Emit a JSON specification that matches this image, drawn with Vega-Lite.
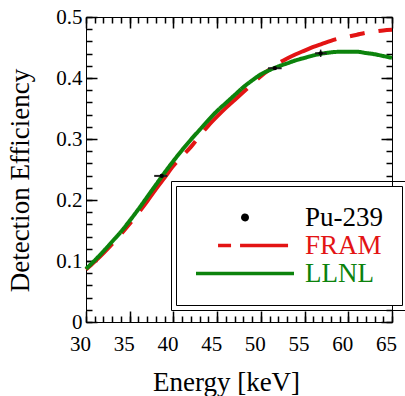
{
  "$schema": "https://vega.github.io/schema/vega-lite/v6.json",
  "width": 306,
  "height": 305,
  "autosize": {"type": "none"},
  "padding": {"left": 86, "top": 17, "right": 13, "bottom": 74},
  "background": "white",
  "config": {
    "view": {"stroke": "black", "strokeWidth": 1, "fill": null},
    "font": "Liberation Serif",
    "legend": {
      "labelFont": "Liberation Serif",
      "labelFontSize": 27,
      "labelLimit": 0,
      "symbolSize": 9604,
      "symbolStrokeWidth": 3.5,
      "clipHeight": 27,
      "rowPadding": 0,
      "labelOffset": 9
    }
  },
  "datasets": {
    "curves": [
      {"series": "FRAM", "energy": 30, "eff": 0.086},
      {"series": "FRAM", "energy": 31, "eff": 0.099},
      {"series": "FRAM", "energy": 32, "eff": 0.113},
      {"series": "FRAM", "energy": 33, "eff": 0.128},
      {"series": "FRAM", "energy": 34, "eff": 0.144},
      {"series": "FRAM", "energy": 35, "eff": 0.161},
      {"series": "FRAM", "energy": 36, "eff": 0.179},
      {"series": "FRAM", "energy": 37, "eff": 0.198},
      {"series": "FRAM", "energy": 38, "eff": 0.218},
      {"series": "FRAM", "energy": 39, "eff": 0.237},
      {"series": "FRAM", "energy": 40, "eff": 0.256},
      {"series": "FRAM", "energy": 41, "eff": 0.272},
      {"series": "FRAM", "energy": 42, "eff": 0.287},
      {"series": "FRAM", "energy": 43, "eff": 0.305},
      {"series": "FRAM", "energy": 44, "eff": 0.322},
      {"series": "FRAM", "energy": 45, "eff": 0.337},
      {"series": "FRAM", "energy": 46, "eff": 0.351},
      {"series": "FRAM", "energy": 47, "eff": 0.364},
      {"series": "FRAM", "energy": 48, "eff": 0.377},
      {"series": "FRAM", "energy": 49, "eff": 0.39},
      {"series": "FRAM", "energy": 50, "eff": 0.403},
      {"series": "FRAM", "energy": 51, "eff": 0.414},
      {"series": "FRAM", "energy": 52, "eff": 0.424},
      {"series": "FRAM", "energy": 53, "eff": 0.432},
      {"series": "FRAM", "energy": 54, "eff": 0.439},
      {"series": "FRAM", "energy": 55, "eff": 0.445},
      {"series": "FRAM", "energy": 56, "eff": 0.451},
      {"series": "FRAM", "energy": 57, "eff": 0.456},
      {"series": "FRAM", "energy": 58, "eff": 0.461},
      {"series": "FRAM", "energy": 59, "eff": 0.465},
      {"series": "FRAM", "energy": 60, "eff": 0.468},
      {"series": "FRAM", "energy": 61, "eff": 0.471},
      {"series": "FRAM", "energy": 62, "eff": 0.474},
      {"series": "FRAM", "energy": 63, "eff": 0.476},
      {"series": "FRAM", "energy": 64, "eff": 0.478},
      {"series": "FRAM", "energy": 65, "eff": 0.479},
      {"series": "LLNL", "energy": 30, "eff": 0.087},
      {"series": "LLNL", "energy": 31, "eff": 0.101},
      {"series": "LLNL", "energy": 32, "eff": 0.116},
      {"series": "LLNL", "energy": 33, "eff": 0.132},
      {"series": "LLNL", "energy": 34, "eff": 0.148},
      {"series": "LLNL", "energy": 35, "eff": 0.166},
      {"series": "LLNL", "energy": 36, "eff": 0.185},
      {"series": "LLNL", "energy": 37, "eff": 0.205},
      {"series": "LLNL", "energy": 38, "eff": 0.225},
      {"series": "LLNL", "energy": 39, "eff": 0.245},
      {"series": "LLNL", "energy": 40, "eff": 0.264},
      {"series": "LLNL", "energy": 41, "eff": 0.282},
      {"series": "LLNL", "energy": 42, "eff": 0.299},
      {"series": "LLNL", "energy": 43, "eff": 0.315},
      {"series": "LLNL", "energy": 44, "eff": 0.331},
      {"series": "LLNL", "energy": 45, "eff": 0.346},
      {"series": "LLNL", "energy": 46, "eff": 0.359},
      {"series": "LLNL", "energy": 47, "eff": 0.372},
      {"series": "LLNL", "energy": 48, "eff": 0.385},
      {"series": "LLNL", "energy": 49, "eff": 0.396},
      {"series": "LLNL", "energy": 50, "eff": 0.406},
      {"series": "LLNL", "energy": 51, "eff": 0.413},
      {"series": "LLNL", "energy": 52, "eff": 0.419},
      {"series": "LLNL", "energy": 53, "eff": 0.424},
      {"series": "LLNL", "energy": 54, "eff": 0.429},
      {"series": "LLNL", "energy": 55, "eff": 0.433},
      {"series": "LLNL", "energy": 56, "eff": 0.437},
      {"series": "LLNL", "energy": 57, "eff": 0.44},
      {"series": "LLNL", "energy": 58, "eff": 0.442},
      {"series": "LLNL", "energy": 59, "eff": 0.443},
      {"series": "LLNL", "energy": 60, "eff": 0.443},
      {"series": "LLNL", "energy": 61, "eff": 0.443},
      {"series": "LLNL", "energy": 62, "eff": 0.441},
      {"series": "LLNL", "energy": 63, "eff": 0.439},
      {"series": "LLNL", "energy": 64, "eff": 0.436},
      {"series": "LLNL", "energy": 65, "eff": 0.433}
    ],
    "measured": [
      {"series": "Pu-239", "energy": 38.66, "eff": 0.2395, "elo": 37.8, "ehi": 39.3, "efflo": 0.2365, "effhi": 0.2425},
      {"series": "Pu-239", "energy": 51.6, "eff": 0.416, "elo": 50.82, "ehi": 52.38, "efflo": 0.413, "effhi": 0.419},
      {"series": "Pu-239", "energy": 56.84, "eff": 0.4405, "elo": 56.2, "ehi": 57.53, "efflo": 0.4345, "effhi": 0.4465}
    ]
  },
  "layer": [
    {
      "data": {"name": "curves"},
      "transform": [{"filter": "datum.series === 'FRAM'"}],
      "mark": {"type": "line", "strokeWidth": 4, "strokeDashOffset": 23, "interpolate": "monotone"},
      "encoding": {
        "x": {"field": "energy", "type": "quantitative", "scale": {"domain": [30, 65], "nice": false, "zero": false},
          "axis": {"orient": "bottom", "values": [30, 35, 40, 45, 50, 55, 60, 65], "offset": -11,
            "ticks": true, "tickSize": 11, "tickColor": "black", "tickWidth": 1.5,
            "domain": false, "grid": false,
            "labelPadding": 11, "labelOffset": -6, "labelFlush": false, "labelOverlap": false,
            "labelFont": "Liberation Serif", "labelFontSize": 21, "labelColor": "black",
            "title": "Energy [keV]", "titleFont": "Liberation Serif", "titleFontSize": 27, "titleFontWeight": "normal", "titleColor": "black",
            "titleX": 140, "titleY": 79, "titleBaseline": "alphabetic", "titleAlign": "center"}},
        "y": {"field": "eff", "type": "quantitative", "scale": {"domain": [0, 0.5], "nice": false, "zero": false},
          "axis": {"orient": "left", "values": [0, 0.1, 0.2, 0.3, 0.4, 0.5], "format": "~g", "offset": -11,
            "ticks": true, "tickSize": 11, "tickColor": "black", "tickWidth": 1.5,
            "domain": false, "grid": false,
            "labelPadding": 4, "labelFlush": false, "labelOverlap": false,
            "labelFont": "Liberation Serif", "labelFontSize": 21, "labelColor": "black",
            "title": "Detection Efficiency", "titleFont": "Liberation Serif", "titleFontSize": 27, "titleFontWeight": "normal", "titleColor": "black",
            "titleX": -69, "titleY": 163, "titleBaseline": "alphabetic", "titleAlign": "center", "titleAngle": -90}},
        "color": {"field": "series", "type": "nominal",
          "scale": {"domain": ["Pu-239", "FRAM", "LLNL"], "range": ["black", "#e31414", "#0c830c"]},
          "legend": {
            "orient": "none", "legendX": 90, "legendY": 169, "title": null, "padding": 18,
            "fillColor": "white", "strokeColor": "black",
            "encode": {
              "symbols": {"update": {
                "shape": {"signal": "datum.value === 'Pu-239' ? 'M-0.045,0A0.045,0.045,0,1,1,0.045,0A0.045,0.045,0,1,1,-0.045,0Z' : datum.value === 'FRAM' ? 'M-0.55,0L0.88,0' : 'M-1,0L1,0'"},
                "stroke": {"signal": "datum.value === 'Pu-239' ? 'transparent' : datum.value === 'FRAM' ? '#e31414' : '#0c830c'"},
                "fill": {"signal": "datum.value === 'Pu-239' ? 'black' : 'transparent'"},
                "strokeDash": {"signal": "datum.value === 'FRAM' ? [13, 9, 48, 9] : [1, 0]"},
                "opacity": {"value": 1}
              }},
              "labels": {"update": {
                "fill": {"signal": "datum.value === 'Pu-239' ? 'black' : datum.value === 'FRAM' ? '#e31414' : '#0c830c'"}
              }}
            }
          }},
        "strokeDash": {"field": "series", "type": "nominal",
          "scale": {"domain": ["LLNL", "FRAM", "Pu-239"], "range": [[1, 0], [60, 14, 15, 14], [1, 0]]},
          "legend": {
            "orient": "none", "legendX": 85, "legendY": 164, "title": null, "padding": 23,
            "strokeColor": "black",
            "encode": {
              "symbols": {"update": {
                "shape": {"signal": "datum.value === 'Pu-239' ? 'M-0.045,0A0.045,0.045,0,1,1,0.045,0A0.045,0.045,0,1,1,-0.045,0Z' : datum.value === 'FRAM' ? 'M-0.55,0L0.88,0' : 'M-1,0L1,0'"},
                "opacity": {"value": 0}
              }},
              "labels": {"update": {"opacity": {"value": 0}}}
            }
          }}
      }
    },
    {
      "data": {"name": "curves"},
      "transform": [{"filter": "datum.series === 'LLNL'"}],
      "mark": {"type": "line", "strokeWidth": 4, "interpolate": "monotone"},
      "encoding": {
        "x": {"field": "energy", "type": "quantitative", "scale": {"domain": [30, 65], "nice": false, "zero": false},
          "axis": {"orient": "bottom", "values": [30, 31, 32, 33, 34, 35, 36, 37, 38, 39, 40, 41, 42, 43, 44, 45, 46, 47, 48, 49, 50, 51, 52, 53, 54, 55, 56, 57, 58, 59, 60, 61, 62, 63, 64, 65], "offset": -6,
            "ticks": true, "tickSize": 6, "tickColor": "black", "tickWidth": 1.5, "domain": false, "grid": false, "labels": false, "title": null}},
        "y": {"field": "eff", "type": "quantitative", "scale": {"domain": [0, 0.5], "nice": false, "zero": false},
          "axis": {"orient": "left", "values": [0, 0.02, 0.04, 0.06, 0.08, 0.1, 0.12, 0.14, 0.16, 0.18, 0.2, 0.22, 0.24, 0.26, 0.28, 0.3, 0.32, 0.34, 0.36, 0.38, 0.4, 0.42, 0.44, 0.46, 0.48, 0.5], "offset": -6,
            "ticks": true, "tickSize": 6, "tickColor": "black", "tickWidth": 1.5, "domain": false, "grid": false, "labels": false, "title": null}},
        "color": {"field": "series", "type": "nominal"},
        "strokeDash": {"field": "series", "type": "nominal"}
      }
    },
    {
      "data": {"name": "measured"},
      "mark": {"type": "rule", "color": "#222", "strokeWidth": 2},
      "encoding": {
        "x": {"field": "elo", "type": "quantitative", "scale": {"domain": [30, 65], "nice": false, "zero": false},
          "axis": {"orient": "top", "values": [30, 35, 40, 45, 50, 55, 60, 65], "offset": -11,
            "ticks": true, "tickSize": 11, "tickColor": "black", "tickWidth": 1.5, "domain": false, "grid": false, "labels": false, "title": null}},
        "x2": {"field": "ehi"},
        "y": {"field": "eff", "type": "quantitative", "scale": {"domain": [0, 0.5], "nice": false, "zero": false},
          "axis": {"orient": "right", "values": [0, 0.1, 0.2, 0.3, 0.4, 0.5], "offset": -11,
            "ticks": true, "tickSize": 11, "tickColor": "black", "tickWidth": 1.5, "domain": false, "grid": false, "labels": false, "title": null}}
      }
    },
    {
      "data": {"name": "measured"},
      "mark": {"type": "rule", "color": "#222", "strokeWidth": 1.5},
      "encoding": {
        "x": {"field": "energy", "type": "quantitative", "scale": {"domain": [30, 65], "nice": false, "zero": false},
          "axis": {"orient": "top", "values": [30, 31, 32, 33, 34, 35, 36, 37, 38, 39, 40, 41, 42, 43, 44, 45, 46, 47, 48, 49, 50, 51, 52, 53, 54, 55, 56, 57, 58, 59, 60, 61, 62, 63, 64, 65], "offset": -6,
            "ticks": true, "tickSize": 6, "tickColor": "black", "tickWidth": 1.5, "domain": false, "grid": false, "labels": false, "title": null}},
        "y": {"field": "efflo", "type": "quantitative", "scale": {"domain": [0, 0.5], "nice": false, "zero": false},
          "axis": {"orient": "right", "values": [0, 0.02, 0.04, 0.06, 0.08, 0.1, 0.12, 0.14, 0.16, 0.18, 0.2, 0.22, 0.24, 0.26, 0.28, 0.3, 0.32, 0.34, 0.36, 0.38, 0.4, 0.42, 0.44, 0.46, 0.48, 0.5], "offset": -6,
            "ticks": true, "tickSize": 6, "tickColor": "black", "tickWidth": 1.5, "domain": false, "grid": false, "labels": false, "title": null}},
        "y2": {"field": "effhi"}
      }
    },
    {
      "data": {"name": "measured"},
      "mark": {"type": "point", "filled": true, "size": 18, "opacity": 1},
      "encoding": {
        "x": {"field": "energy", "type": "quantitative", "scale": {"domain": [30, 65], "nice": false, "zero": false}, "axis": null},
        "y": {"field": "eff", "type": "quantitative", "scale": {"domain": [0, 0.5], "nice": false, "zero": false}, "axis": null},
        "color": {"field": "series", "type": "nominal"}
      }
    }
  ],
  "resolve": {"scale": {"x": "independent", "y": "independent"}}
}
